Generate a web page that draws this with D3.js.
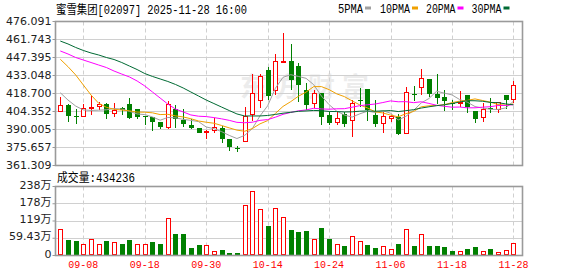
<!DOCTYPE html>
<html>
<head>
<meta charset="utf-8">
<script src="https://cdn.jsdelivr.net/npm/d3@7"></script>
<style>
  body { margin: 0; background: #fff; }
  svg { display: block; }
</style>
</head>
<body>
<script>
// --- data ---
const stockName = "蜜雪集团"
const stockCode = "02097"
const stamp = "2025-11-28 16:00"

const dates = ["09-03","09-04","09-05","09-08","09-09","09-10","09-11","09-12","09-15","09-16",
  "09-17","09-18","09-19","09-22","09-23","09-24","09-25","09-26","09-29","09-30",
  "10-02","10-03","10-06","10-08","10-09","10-10","10-13","10-14","10-15","10-16",
  "10-17","10-20","10-21","10-22","10-23","10-24","10-27","10-28","10-30","10-31",
  "11-03","11-04","11-05","11-06","11-07","11-10","11-11","11-12","11-13","11-14",
  "11-17","11-18","11-19","11-20","11-21","11-24","11-25","11-26","11-27","11-28"]

const openPrices = [404.5,409.5,401.0,401.0,407.1,409.0,410.3,402.9,406.9,410.3,
  406.4,400.5,399.7,395.7,392.3,406.1,397.6,393.6,391.5,387.7,
  389.6,391.5,382.4,375.3,380.6,402.1,413.5,437.4,421.5,444.2,
  444.6,440.9,421.5,411.4,418.9,401.6,396.2,402.1,397.6,413.8,
  422.1,401.6,394.9,398.9,400.2,387.0,418.3,423.6,430.3,418.3,
  415.7,411.1,411.5,417.5,405.0,400.2,407.1,406.6,417.5,414.1]
const highPrices = [415.7,410.1,406.1,410.3,416.7,412.2,410.9,410.9,407.7,415.1,
  406.4,400.5,399.7,395.7,412.7,409.5,406.1,398.4,391.5,389.6,
  399.4,392.8,382.4,377.2,407.7,433.9,434.0,440.1,450.0,466.7,
  458.2,442.8,426.8,421.5,418.9,403.7,403.7,404.0,413.5,422.9,
  422.1,413.5,404.2,401.6,402.4,423.6,424.7,438.0,430.3,434.2,
  421.5,413.5,421.0,417.5,405.0,411.4,414.9,411.9,417.5,428.7]
const lowPrices = [404.0,396.2,394.1,401.0,401.8,405.5,398.1,400.2,401.6,398.1,
  398.1,393.6,389.1,390.4,390.1,391.5,391.7,390.1,387.0,382.2,
  387.0,379.5,372.9,371.8,380.6,397.0,406.9,413.5,417.5,442.8,
  421.5,412.2,405.5,406.9,393.6,393.6,393.6,392.2,383.8,408.2,
  396.8,392.2,387.5,396.2,385.6,387.0,412.7,417.5,415.9,410.3,
  405.0,405.5,407.7,403.4,395.4,395.7,403.4,403.4,406.1,410.9]
const closePrices = [409.5,401.0,400.5,406.9,408.2,410.3,402.4,405.5,405.2,399.2,
  399.7,400.0,395.7,392.3,410.3,398.1,394.1,391.5,387.5,388.6,
  391.7,382.2,376.4,375.0,401.0,418.8,432.7,416.9,444.6,444.9,
  429.5,425.5,409.5,418.9,400.2,394.9,399.4,394.1,410.9,413.3,
  405.5,394.4,400.8,401.0,386.4,420.1,417.9,430.8,418.3,415.5,
  412.7,410.7,412.2,407.7,398.4,406.3,406.0,411.7,413.5,425.2]

// shares
const volumes = [904000,522000,487000,407000,581000,407000,487000,476000,383000,522000,
  407000,407000,452000,383000,1277000,731000,731000,254000,348000,372000,
  163000,174000,70000,70000,1740000,2227000,1600000,1010000,1625000,1312000,
  870000,800000,835000,557000,940000,557000,407000,313000,661000,512000,
  348000,244000,313000,209000,383000,905000,313000,755000,313000,313000,
  278000,139000,163000,209000,278000,163000,209000,129000,198000,434236]

const ma5 = [419.3,413.5,408.7,405.6,405.2,405.4,405.7,406.7,406.3,404.5,
  402.4,401.9,400.0,397.4,399.6,399.3,398.1,397.3,396.3,392.0,
  390.7,388.3,385.3,382.8,385.3,390.7,400.8,408.9,422.8,431.6,
  433.7,432.3,430.8,425.7,416.7,409.8,404.6,401.5,399.9,402.5,
  404.6,403.6,405.0,403.0,397.6,400.5,405.2,411.2,414.7,420.5,
  419.0,417.6,413.9,411.8,408.3,407.1,406.1,406.0,407.2,412.5]
const ma10 = [446.0,440.1,433.5,425.5,417.5,410.9,407.7,406.1,405.5,404.9,
  403.9,403.8,403.3,401.9,402.1,400.9,400.0,398.6,396.8,395.8,
  395.0,393.2,391.3,389.5,388.6,390.7,394.5,397.1,402.8,408.4,
  412.2,416.5,419.8,424.2,424.2,421.8,418.4,416.2,412.8,409.6,
  407.2,404.1,403.2,401.5,400.1,402.6,404.4,408.1,408.9,409.1,
  409.8,411.4,412.6,413.2,414.4,413.1,411.8,409.9,409.4,410.4]
const ma20 = [452.6,450.2,447.4,445.4,443.4,441.4,439.4,436.6,434.2,431.9,
  428.7,424.7,419.9,415.1,410.3,406.3,404.0,401.6,400.6,400.3,
  399.5,398.5,397.3,395.7,395.4,395.8,397.3,397.9,399.8,402.1,
  403.6,404.9,405.6,406.9,406.4,406.2,406.5,406.6,407.8,409.0,
  409.7,410.3,411.5,412.8,412.1,412.2,411.4,412.1,410.8,409.3,
  408.5,407.8,407.9,407.3,407.3,407.8,408.2,409.1,409.2,409.8]
const ma30 = [460.5,458.2,455.4,453.0,451.0,449.4,447.4,445.8,443.4,440.6,
  437.8,434.6,432.3,430.3,428.3,425.9,423.1,419.9,416.7,413.5,
  410.7,407.9,405.1,402.4,400.8,400.8,400.8,401.2,402.0,403.0,
  403.7,404.5,404.8,405.2,405.0,404.4,404.3,404.0,404.1,404.6,
  404.8,404.6,404.8,405.1,404.3,405.0,405.8,407.1,408.1,409.0,
  409.7,410.7,411.9,413.0,412.9,412.5,411.6,411.4,410.4,409.7]

const maNames = ["5PMA", "10PMA", "20PMA", "30PMA"]

const priceTicks = [476.091, 461.743, 447.395, 433.048, 418.700, 404.352, 390.005, 375.657, 361.309]
const priceTickLabels = ["476.091","461.743","447.395","433.048","418.700","404.352","390.005","375.657","361.309"]
const volTicks = [0, 594300, 1188600, 1782900, 2377200]
const volTickLabels = ["0", "59.43万", "119万", "178万", "238万"]
const xLabelDates = ["09-08","09-18","09-30","10-14","10-24","11-06","11-18","11-28"]

// --- layout ---
const width = 578, height = 276
const left = 55.5, right = 522.5
const kTop = 21.5, kBottom = 165.5
const vTop = 186.5, vBottom = 255.5
const upColor = "#ff0000", downColor = "#008000"
const maColors = ["#a0a0a0", "#f0a000", "#ff00ff", "#006a33"]
const gridColor = "#d0d0d0", frameColor = "#9a9a9a"
const monoFont = "'Liberation Mono', 'Noto Sans CJK SC', monospace"
const labelFont = "'DejaVu Sans', 'Noto Sans CJK SC', sans-serif"

const svg = d3.select("body").append("svg")
  .attr("width", width)
  .attr("height", height)

const x = d3.scaleLinear().domain([0, dates.length - 1]).range([60.3, 513.4])
const y = d3.scaleLinear().domain([priceTicks[priceTicks.length - 1], priceTicks[0]]).range([kBottom, kTop])
const yVol = d3.scaleLinear().domain([0, volTicks[volTicks.length - 1]]).range([vBottom, vTop])
const px = i => Math.round(x(i)) + 0.5
const tickIdx = xLabelDates.map(d => dates.indexOf(d))

// title + legend
svg.append("text")
  .attr("x", 56).attr("y", 13.5)
  .attr("font-family", monoFont).attr("font-size", 12).attr("fill", "#000")
  .attr("textLength", 191).attr("lengthAdjust", "spacingAndGlyphs")
  .text(`${stockName}[${stockCode}] ${stamp}`)

const legendX = [338, 380, 426, 471.5]
const legendW = [25, 30, 29.5, 30]
maNames.forEach((name, k) => {
  svg.append("text")
    .attr("x", legendX[k]).attr("y", 12.5)
    .attr("font-family", monoFont).attr("font-size", 12).attr("fill", "#000")
    .attr("textLength", legendW[k]).attr("lengthAdjust", "spacingAndGlyphs")
    .text(name)
  svg.append("rect")
    .attr("x", legendX[k] + legendW[k] + 2).attr("y", 6.5)
    .attr("width", 6).attr("height", 3)
    .attr("fill", maColors[k])
})

// watermark
svg.append("text")
  .attr("x", 240).attr("y", 97)
  .attr("font-family", "'Noto Sans CJK SC', sans-serif").attr("font-size", 27)
  .attr("font-weight", "bold")
  .attr("letter-spacing", 7)
  .attr("fill", "#000").attr("opacity", 0.07)
  .text("东方财富")

// grids
function grid(g, yTicks, yFn, top, bottom) {
  g.selectAll("line.h").data(yTicks).join("line")
    .attr("class", "h")
    .attr("x1", left).attr("x2", right)
    .attr("y1", d => Math.floor(yFn(d)) + 0.5).attr("y2", d => Math.floor(yFn(d)) + 0.5)
    .attr("stroke", gridColor)
  g.selectAll("line.v").data(tickIdx).join("line")
    .attr("class", "v")
    .attr("x1", d => px(d)).attr("x2", d => px(d))
    .attr("y1", top).attr("y2", bottom)
    .attr("stroke", gridColor)
    .attr("stroke-dasharray", "4,3")
}
grid(svg.append("g"), priceTicks.slice(1, -1), y, kTop, kBottom)
grid(svg.append("g"), volTicks.slice(1, -1), yVol, vTop, vBottom)

// candles
const candles = dates.map((d, i) => ({
  i, o: openPrices[i], h: highPrices[i], l: lowPrices[i], c: closePrices[i]
}))
const cg = svg.append("g")
candles.forEach(d => {
  const cx = px(d.i)
  const yo = Math.round(y(d.o)), yc = Math.round(y(d.c))
  const yh = Math.round(y(d.h)), yl = Math.round(y(d.l))
  if (d.c >= d.o) {
    // hollow red
    if (yo - yc >= 1) {
      cg.append("line").attr("x1", cx).attr("x2", cx).attr("y1", yh).attr("y2", yc)
        .attr("stroke", upColor)
      cg.append("line").attr("x1", cx).attr("x2", cx).attr("y1", yo).attr("y2", yl)
        .attr("stroke", upColor)
      cg.append("rect").attr("x", cx - 2).attr("y", yc + 0.5)
        .attr("width", 4).attr("height", yo - yc)
        .attr("fill", "#fff").attr("stroke", upColor)
    } else {
      cg.append("line").attr("x1", cx).attr("x2", cx).attr("y1", yh).attr("y2", yl)
        .attr("stroke", upColor)
      cg.append("line").attr("x1", cx - 2.5).attr("x2", cx + 2.5).attr("y1", yc + 0.5).attr("y2", yc + 0.5)
        .attr("stroke", upColor)
    }
  } else {
    cg.append("line").attr("x1", cx).attr("x2", cx).attr("y1", yh).attr("y2", yl)
      .attr("stroke", downColor)
    cg.append("rect").attr("x", cx - 2.5).attr("y", yo)
      .attr("width", 5).attr("height", Math.max(1, yc - yo))
      .attr("fill", downColor)
  }
})

// moving averages
const maLine = d3.line().x((d, i) => x(i)).y(d => y(d))
;[ma5, ma10, ma20, ma30].forEach((series, k) => {
  svg.append("path")
    .attr("d", maLine(series))
    .attr("fill", "none")
    .attr("stroke", maColors[k])
    .attr("stroke-width", 1)
})

// volume bars, coloured by close vs previous close
const vg = svg.append("g")
volumes.forEach((v, i) => {
  const cx = px(i)
  const top = Math.round(yVol(v))
  const base = Math.round(vBottom - 0.5)
  const up = i === 0 || closePrices[i] >= closePrices[i - 1]
  if (up) {
    vg.append("rect").attr("x", cx - 2).attr("y", top + 0.5)
      .attr("width", 4).attr("height", Math.max(0, base - top - 1))
      .attr("fill", "#fff").attr("stroke", upColor)
  } else {
    vg.append("rect").attr("x", cx - 2.5).attr("y", top)
      .attr("width", 5).attr("height", base - top)
      .attr("fill", downColor)
  }
})

svg.append("text")
  .attr("x", 57).attr("y", 181.5)
  .attr("font-family", monoFont).attr("font-size", 12).attr("fill", "#000")
  .attr("textLength", 78).attr("lengthAdjust", "spacingAndGlyphs")
  .text("成交量:" + volumes[volumes.length - 1])

// frames
;[[kTop, kBottom], [vTop, vBottom]].forEach(([t, b]) => {
  svg.append("rect")
    .attr("x", left).attr("y", t)
    .attr("width", right - left).attr("height", b - t)
    .attr("fill", "none").attr("stroke", frameColor).attr("stroke-width", 1.6)
})

// axes
function styleAxis(g) {
  g.select(".domain").remove()
  g.selectAll(".tick line").attr("stroke", frameColor)
  g.selectAll(".tick text")
    .attr("font-family", labelFont).attr("font-size", 11).attr("fill", "#222")
}
svg.append("g")
  .attr("transform", `translate(${left},0)`)
  .call(d3.axisLeft(y).tickValues(priceTicks).tickFormat((d, i) => priceTickLabels[i])
    .tickSize(3).tickSizeOuter(0).tickPadding(1).offset(0))
  .call(styleAxis)

svg.append("g")
  .attr("transform", `translate(${left},0)`)
  .call(d3.axisLeft(yVol).tickValues(volTicks).tickFormat((d, i) => volTickLabels[i])
    .tickSize(3).tickSizeOuter(0).tickPadding(1).offset(0))
  .call(styleAxis)
  .selectAll(".tick text").attr("dy", "0.2em")

svg.append("g")
  .attr("transform", `translate(0,${vBottom})`)
  .call(d3.axisBottom(x).tickValues(tickIdx).tickFormat(i => dates[i])
    .tickSize(0).tickPadding(5).offset(0))
  .call(g => {
    g.select(".domain").remove()
    g.selectAll(".tick text")
      .attr("font-family", monoFont).attr("font-size", 11).attr("fill", "#ff0000")
      .attr("textLength", 30).attr("lengthAdjust", "spacingAndGlyphs")
  })
</script>
</body>
</html>
